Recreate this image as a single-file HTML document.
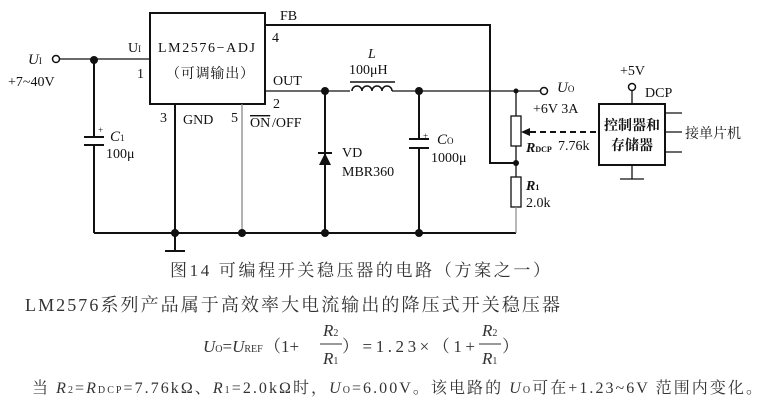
<!DOCTYPE html><html><head><meta charset="utf-8"><style>
body{margin:0;background:#fff;width:772px;height:405px;overflow:hidden;position:relative;font-family:"Liberation Serif","Noto Serif CJK SC",serif;color:#222}
</style></head><body>
<svg width="772" height="405" style="position:absolute;left:0;top:0" font-family="Liberation Serif, Noto Serif CJK SC, serif" fill="#111">
<g stroke="#111" stroke-width="2" fill="none">
<rect x="150" y="13" width="115" height="91"/>
<polyline points="265,25 490,25 490,163 516,163"/>
<line x1="60" y1="59" x2="150" y2="59" stroke-width="1.3"/>
<line x1="94" y1="59" x2="94" y2="137"/>
<line x1="94" y1="145" x2="94" y2="233"/>
<line x1="84" y1="137" x2="104" y2="137"/><line x1="84" y1="145" x2="104" y2="145"/>
<line x1="94" y1="233" x2="516" y2="233"/>
<line x1="175" y1="104" x2="175" y2="251"/>
<line x1="165" y1="251" x2="185" y2="251"/>
<line x1="242" y1="104" x2="242" y2="233" stroke="#888" stroke-width="1.3"/>
<line x1="265" y1="91" x2="350" y2="91" stroke-width="1.3"/>
<path d="M352,91 a5,5 0 0 1 10,0 a5,5 0 0 1 10,0 a5,5 0 0 1 10,0 a5,5 0 0 1 10,0" stroke-width="1.5"/>
<line x1="350" y1="82" x2="395" y2="82" stroke-width="1.5"/>
<line x1="392" y1="91" x2="540" y2="91" stroke-width="1.3"/>
<line x1="325" y1="91" x2="325" y2="233"/>
<line x1="419" y1="91" x2="419" y2="139"/><line x1="419" y1="148" x2="419" y2="233"/>
<line x1="409" y1="139" x2="429" y2="139"/><line x1="409" y1="148" x2="429" y2="148"/>
<line x1="516" y1="91" x2="516" y2="116" stroke-width="1.3"/>
<rect x="511" y="116" width="10" height="30" stroke-width="1.3"/>
<line x1="516" y1="146" x2="516" y2="177" stroke-width="1.3"/>
<rect x="511" y="177" width="10" height="30" stroke-width="1.3"/>
<line x1="516" y1="207" x2="516" y2="233" stroke="#888" stroke-width="1.2"/>
<line x1="530" y1="132" x2="598" y2="132" stroke-dasharray="6,4"/>
<rect x="599" y="104" width="66" height="61"/>
<line x1="632" y1="91" x2="632" y2="104" stroke-width="1.3"/>
<line x1="665" y1="113" x2="682" y2="113" stroke-width="1.3"/><line x1="665" y1="132" x2="682" y2="132" stroke-width="1.3"/><line x1="665" y1="152" x2="682" y2="152" stroke-width="1.3"/>
<line x1="632" y1="165" x2="632" y2="179" stroke-width="1.3"/><line x1="620" y1="179" x2="644" y2="179" stroke-width="1.3"/>
<circle cx="56" cy="59" r="3.5" stroke-width="1.5"/><circle cx="544" cy="91" r="3.5" stroke-width="1.5"/><circle cx="632" cy="87" r="3.5" stroke-width="1.5"/>
</g>
<polygon points="521,132 530,128 530,136"/>
<polygon points="319,165 331,165 325,153"/><line x1="318" y1="153" x2="332" y2="153" stroke="#111" stroke-width="2"/>
<g><circle cx="94" cy="60" r="4"/><circle cx="325" cy="91" r="4"/><circle cx="419" cy="91" r="4"/><circle cx="175" cy="233" r="4"/><circle cx="242" cy="233" r="4"/><circle cx="325" cy="233" r="4"/><circle cx="419" cy="233" r="4"/><circle cx="516" cy="91" r="2.5"/><circle cx="516" cy="163" r="3"/></g>
<g font-size="14">
<text x="28" y="64" font-style="italic" font-size="15">U<tspan font-size="9" font-style="normal">I</tspan></text>
<text x="8" y="86">+7~40V</text>
<text x="128" y="52">U<tspan font-size="9">I</tspan></text>
<text x="137" y="78">1</text>
<text x="158" y="52" textLength="97">LM2576−ADJ</text>
<text x="166" y="78" textLength="88">（可调输出）</text>
<text x="280" y="20">FB</text><text x="272" y="42">4</text>
<text x="273" y="85">OUT</text><text x="273" y="108">2</text>
<text x="160" y="122">3</text><text x="183" y="124">GND</text><text x="231" y="122">5</text>
<text x="250" y="127" style="text-decoration:overline">ON</text><text x="272" y="127">/OFF</text>
<text x="110" y="141" font-style="italic" font-size="15">C<tspan font-size="9" font-style="normal">1</tspan></text><text x="98" y="133" font-size="9">+</text>
<text x="106" y="158">100μ</text>
<text x="368" y="58" font-style="italic">L</text><text x="349" y="74">100μH</text>
<text x="342" y="157">VD</text><text x="342" y="176">MBR360</text>
<text x="437" y="144" font-style="italic" font-size="15">C<tspan font-size="9" font-style="normal">O</tspan></text><text x="423" y="139" font-size="9">+</text>
<text x="431" y="162">1000μ</text>
<text x="557" y="92" font-style="italic" font-size="15">U<tspan font-size="9" font-style="normal">O</tspan></text>
<text x="533" y="113">+6V 3A</text>
<text x="526" y="152" font-style="italic" font-weight="bold">R<tspan font-size="8" font-style="normal">DCP</tspan></text><text x="558" y="150">7.76k</text>
<text x="526" y="190" font-style="italic" font-weight="bold">R<tspan font-size="8" font-style="normal">1</tspan></text><text x="526" y="207">2.0k</text>
<text x="620" y="75">+5V</text><text x="645" y="97">DCP</text>
<text x="604" y="130" font-size="14" font-weight="bold">控制器和</text><text x="611" y="150" font-size="14" font-weight="bold">存储器</text>
<text x="685" y="138">接单片机</text>
</g>
<g fill="#333">
<text x="170" y="276" font-size="17" textLength="380">图14 可编程开关稳压器的电路（方案之一）</text>
<text x="25" y="311" font-size="18" textLength="535">LM2576系列产品属于高效率大电流输出的降压式开关稳压器</text>
<g font-size="17">
<text x="203" y="352" font-style="italic">U<tspan font-size="10" font-style="normal">O</tspan><tspan font-style="normal">=</tspan>U<tspan font-size="10" font-style="normal">REF</tspan></text>
<text x="264" y="352">（1+</text>
<text x="323" y="336" font-style="italic">R<tspan font-size="10" font-style="normal">2</tspan></text>
<line x1="320" y1="344" x2="342" y2="344" stroke="#333" stroke-width="1"/>
<text x="323" y="364" font-style="italic">R<tspan font-size="10" font-style="normal">1</tspan></text>
<text x="342" y="352" textLength="133">）=1.23×（1+</text>
<text x="482" y="336" font-style="italic">R<tspan font-size="10" font-style="normal">2</tspan></text>
<line x1="479" y1="344" x2="501" y2="344" stroke="#333" stroke-width="1"/>
<text x="482" y="364" font-style="italic">R<tspan font-size="10" font-style="normal">1</tspan></text>
<text x="502" y="352">）</text>
</g>
<text x="32" y="393" font-size="16" textLength="730" lengthAdjust="spacing">当 <tspan font-style="italic">R</tspan><tspan font-size="10">2</tspan>=<tspan font-style="italic">R</tspan><tspan font-size="10">DCP</tspan>=7.76kΩ、<tspan font-style="italic">R</tspan><tspan font-size="10">1</tspan>=2.0kΩ时，<tspan font-style="italic">U</tspan><tspan font-size="10">O</tspan>=6.00V。该电路的 <tspan font-style="italic">U</tspan><tspan font-size="10">O</tspan>可在+1.23~6V 范围内变化。</text>
</g>
</svg>
</body></html>
